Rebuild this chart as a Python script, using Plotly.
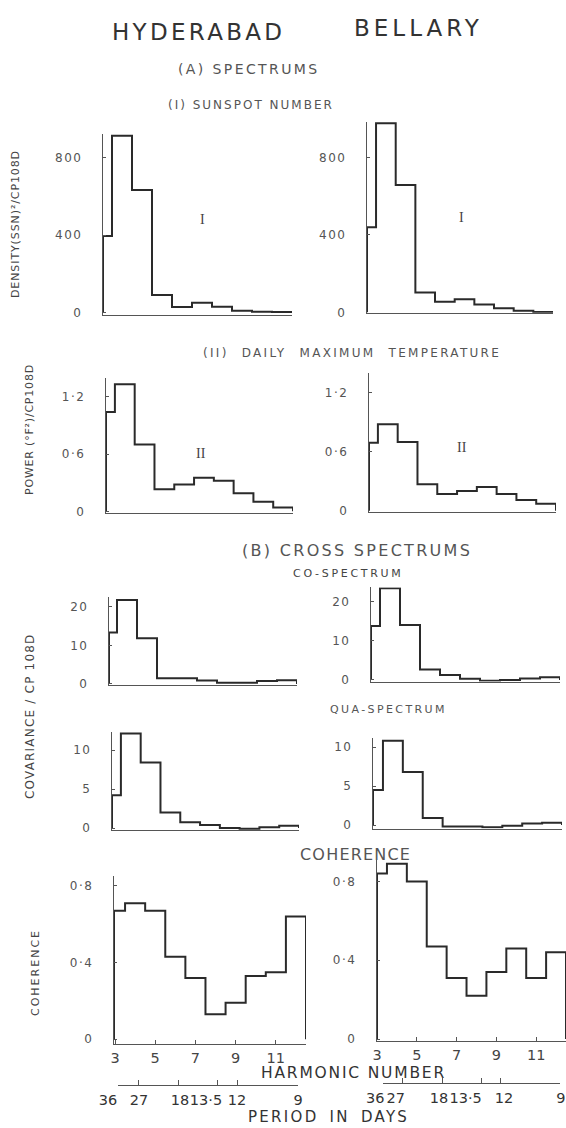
import plotly.graph_objects as go

W, H = 566, 1128

# ---------------- data ----------------
harmonics = [3, 4, 5, 6, 7, 8, 9, 10, 11, 12]

sunspot_hyderabad = [395, 914, 633, 90, 27, 50, 29, 8, 3, 1]
sunspot_bellary = [440, 978, 659, 103, 55, 67, 41, 21, 8, 2]
temp_hyderabad = [1.04, 1.33, 0.70, 0.23, 0.28, 0.35, 0.32, 0.19, 0.10, 0.04]
temp_bellary = [0.69, 0.88, 0.70, 0.27, 0.17, 0.20, 0.24, 0.17, 0.11, 0.07]
cospec_hyderabad = [13.4, 21.8, 11.9, 1.5, 1.5, 0.9, 0.3, 0.3, 0.8, 1.0]
cospec_bellary = [13.8, 23.4, 14.0, 2.7, 1.3, 0.3, -0.2, 0.0, 0.4, 0.7]
quad_hyderabad = [4.2, 12.1, 8.4, 2.0, 0.75, 0.4, 0.0, -0.1, 0.1, 0.3]
quad_bellary = [4.5, 10.8, 6.8, 0.9, -0.2, -0.2, -0.3, -0.1, 0.2, 0.3]
coh_hyderabad = [0.67, 0.71, 0.67, 0.43, 0.32, 0.13, 0.19, 0.33, 0.35, 0.64]
coh_bellary = [0.84, 0.89, 0.80, 0.47, 0.31, 0.22, 0.34, 0.46, 0.31, 0.44]

sunspot_ticks = [0, 400, 800]
sunspot_ticktext = ["0", "400", "800"]
temp_ticks = [0, 0.6, 1.2]
temp_ticktext = ["0", "0·6", "1·2"]
cospec_ticks = [0, 10, 20]
cospec_ticktext = ["0", "10", "20"]
quad_ticks = [0, 5, 10]
quad_ticktext = ["0", "5", "10"]
coh_ticks = [0, 0.4, 0.8]
coh_ticktext = ["0", "0·4", "0·8"]

harmonic_ticks = [3, 5, 7, 9, 11]
harmonic_ticktext = ["3", "5", "7", "9", "11"]
# period (days) = 108 / harmonic number
period_harmonics = [3, 4, 6, 8, 9, 12]
period_ticktext = ["36", "27", "18", "13·5", "12", "9"]
# where the hand-lettered period labels sit (in harmonic units)
period_label_pos_hyd = [2.5, 4.05, 6.1, 7.4, 8.95, 12.0]
period_label_pos_bel = [2.6, 3.65, 5.85, 7.2, 9.15, 12.05]

# ---------------- styling helpers ----------------
FONT = "DejaVu Sans"
LINE = "#2a2a2a"
AXIS = "#555555"
TXT = "#444444"


def sp(text, letter, word=None):
    style = f"letter-spacing:{letter}px"
    if word is not None:
        style += f";word-spacing:{word}px"
    return f'<span style="{style}">{text}</span>'


# panel geometry (pixel layout of each subplot)
panels = [
    dict(vals=sunspot_hyderabad, x0=103, x1=292, xr=[3.05, 12.5], zero=312.3, ppu=77.3 / 400,
         yr=[-14, 925], tv=sunspot_ticks, tt=sunspot_ticktext),
    dict(vals=sunspot_bellary, x0=367, x1=553, xr=[3.04, 12.5], zero=312.3, ppu=77.3 / 400,
         yr=[-2, 985], tv=sunspot_ticks, tt=sunspot_ticktext),
    dict(vals=temp_hyderabad, x0=106, x1=293, xr=[3.05, 12.5], zero=511.3, ppu=95.5,
         yr=[-0.015, 1.40], tv=temp_ticks, tt=temp_ticktext),
    dict(vals=temp_bellary, x0=369, x1=556, xr=[3.05, 12.5], zero=510.7, ppu=98.3,
         yr=[-0.01, 1.40], tv=temp_ticks, tt=temp_ticktext),
    dict(vals=cospec_hyderabad, x0=109, x1=297, xr=[3.1, 12.5], zero=684, ppu=3.85,
         yr=[-0.3, 22.5], tv=cospec_ticks, tt=cospec_ticktext),
    dict(vals=cospec_bellary, x0=371, x1=560, xr=[3.05, 12.5], zero=680, ppu=3.92,
         yr=[-0.4, 23.6], tv=cospec_ticks, tt=cospec_ticktext),
    dict(vals=quad_hyderabad, x0=112, x1=299, xr=[3.05, 12.5], zero=828, ppu=7.8,
         yr=[-0.3, 12.3], tv=quad_ticks, tt=quad_ticktext),
    dict(vals=quad_bellary, x0=373, x1=562, xr=[3.0, 12.5], zero=825, ppu=7.8,
         yr=[-0.45, 11.2], tv=quad_ticks, tt=quad_ticktext),
    dict(vals=coh_hyderabad, x0=114, x1=306, xr=[2.95, 12.5], zero=1039.3, ppu=191.7,
         yr=[-0.025, 0.85], tv=coh_ticks, tt=coh_ticktext),
    dict(vals=coh_bellary, x0=377, x1=566, xr=[3.0, 12.5], zero=1039, ppu=197,
         yr=[-0.01, 0.91], tv=coh_ticks, tt=coh_ticktext),
]

fig = go.Figure()
layout = {}

for i, p in enumerate(panels, start=1):
    xname = "x" if i == 1 else f"x{i}"
    yname = "y" if i == 1 else f"y{i}"
    xs = p["xr"][0]
    step_x = [xs, xs] + [h + 0.5 for h in harmonics]
    step_y = [0] + list(p["vals"]) + [0]
    fig.add_trace(go.Scatter(
        x=step_x, y=step_y, mode="lines", line=dict(color=LINE, width=2, shape="hv"),
        xaxis=xname, yaxis=yname, showlegend=False, hoverinfo="skip"))

    top = p["zero"] - p["yr"][1] * p["ppu"]
    bot = p["zero"] - p["yr"][0] * p["ppu"]
    xd = [p["x0"] / W, min(p["x1"] / W, 1.0)]
    yd = [1 - bot / H, 1 - top / H]

    is_coh = i in (9, 10)
    xa = dict(domain=xd, range=p["xr"], anchor=yname, showline=True, linecolor=AXIS,
              linewidth=1.3, showgrid=False, zeroline=False, fixedrange=True)
    if is_coh:
        xa.update(tickmode="array", tickvals=harmonic_ticks, ticktext=harmonic_ticktext,
                  ticks="inside", ticklen=4, tickcolor=AXIS, tickangle=0,
                  tickfont=dict(family=FONT, size=14.5, color=TXT), ticklabelstandoff=0)
    else:
        xa.update(showticklabels=False, ticks="")
    ya = dict(domain=yd, range=p["yr"], anchor=xname, showline=True, linecolor=AXIS,
              linewidth=1.3, showgrid=False, zeroline=False, fixedrange=True,
              tickmode="array", tickvals=p["tv"],
              ticktext=[sp(t, 1.5) for t in p["tt"]],
              ticks="inside", ticklen=3, tickcolor=AXIS,
              tickfont=dict(family=FONT, size=12, color="#555"), ticklabelstandoff=17)
    layout["xaxis" if i == 1 else f"xaxis{i}"] = xa
    layout["yaxis" if i == 1 else f"yaxis{i}"] = ya

# period-in-days scales under the coherence panels:
#   one axis carries the line and the tick marks, a second one the hand-placed labels
period_scales = [
    dict(line_dom=(118, 298), line_rng=[2.99, 12.01], lab_dom=(98, 318), lab_rng=[2.0, 13.0],
         pos=1085, yref="y9", lab_pos=period_label_pos_hyd),
    dict(line_dom=(383, 560), line_rng=[2.99, 12.01], lab_dom=(363, 566),
         lab_rng=[3 - 20 / 19.67, 12 + 6 / 19.67], pos=1083, yref="y10",
         lab_pos=period_label_pos_bel),
]
for k, ps in enumerate(period_scales):
    li, la = 11 + k, 13 + k
    for idx in (li, la):
        fig.add_trace(go.Scatter(x=period_harmonics, y=[None] * len(period_harmonics),
                                 mode="lines", xaxis=f"x{idx}", yaxis=ps["yref"],
                                 showlegend=False, hoverinfo="skip"))
    layout[f"xaxis{li}"] = dict(
        domain=[ps["line_dom"][0] / W, ps["line_dom"][1] / W], range=ps["line_rng"],
        anchor="free", position=1 - ps["pos"] / H, showline=True, linecolor=AXIS,
        linewidth=1.3, showgrid=False, zeroline=False, tickmode="array",
        tickvals=period_harmonics, showticklabels=False, ticks="inside", ticklen=5,
        tickcolor=AXIS, fixedrange=True)
    layout[f"xaxis{la}"] = dict(
        domain=[ps["lab_dom"][0] / W, ps["lab_dom"][1] / W], range=ps["lab_rng"],
        anchor="free", position=1 - ps["pos"] / H, showline=False, showgrid=False,
        zeroline=False, tickmode="array", tickvals=ps["lab_pos"], ticktext=period_ticktext,
        ticks="", tickangle=0, tickfont=dict(family=FONT, size=14.5, color="#333"),
        ticklabelstandoff=4, fixedrange=True)

# ---------------- text ----------------
ann = []


def add_text(text, xpx, ypx, size, color=TXT, angle=0, family=FONT):
    ann.append(dict(text=text, x=xpx / W, y=1 - ypx / H, xref="paper", yref="paper",
                    showarrow=False, xanchor="center", yanchor="middle", textangle=angle,
                    font=dict(family=family, size=size, color=color)))


add_text(sp("HYDERABAD", 3.3), 198, 32, 23, "#333")
add_text(sp("BELLARY", 4), 418, 28, 23, "#333")
add_text(sp("(A) SPECTRUMS", 2.4), 249, 69, 14, "#555")
add_text(sp("(I) SUNSPOT NUMBER", 2), 251, 105, 12, "#555")
add_text(sp("(II) DAILY MAXIMUM TEMPERATURE", 2.3, 7), 352, 353, 12, "#555")
add_text(sp("(B) CROSS SPECTRUMS", 2.3), 357, 550, 16, "#555")
add_text(sp("CO-SPECTRUM", 2.7), 348, 573, 11, "#444")
add_text(sp("QUA-SPECTRUM", 2.4), 388, 709, 11, "#555")
add_text(sp("COHERENCE", 1.2), 355, 854, 16, "#555")
add_text(sp("HARMONIC NUMBER", 1.8), 353, 1073, 15.5, "#333")
add_text(sp("PERIOD IN DAYS", 2.3, 4), 328, 1117, 15, "#333")

add_text(sp("DENSITY(SSN)²/CP108D", 0.9), 15, 224, 11, TXT, -90)
add_text(sp("POWER (°F²)/CP108D", 0.8), 29, 430, 11, TXT, -90)
add_text(sp("COVARIANCE / CP 108D", 1.2), 30, 716, 12, TXT, -90)
add_text(sp("COHERENCE", 2), 35, 973, 11, TXT, -90)

# roman-numeral panel labels (placed in data coordinates)
for xr, yr, txt, px, py in [("x", "y", "I", 8.0, 478), ("x2", "y2", "I", 7.85, 488),
                             ("x3", "y3", "II", 7.85, 0.61), ("x4", "y4", "II", 7.75, 0.64)]:
    ann.append(dict(text=txt, x=px, y=py, xref=xr, yref=yr, showarrow=False,
                    font=dict(family="Liberation Serif", size=14, color="#444")))

fig.update_layout(
    width=W, height=H, margin=dict(l=0, r=0, t=0, b=0, pad=0, autoexpand=False),
    paper_bgcolor="white", plot_bgcolor="rgba(0,0,0,0)",
    font=dict(family=FONT, color=TXT), showlegend=False, annotations=ann, **layout)

fig.write_html("out.html", config={"displayModeBar": False},
               post_script="document.body.style.margin='0';document.body.style.overflow='hidden';")
